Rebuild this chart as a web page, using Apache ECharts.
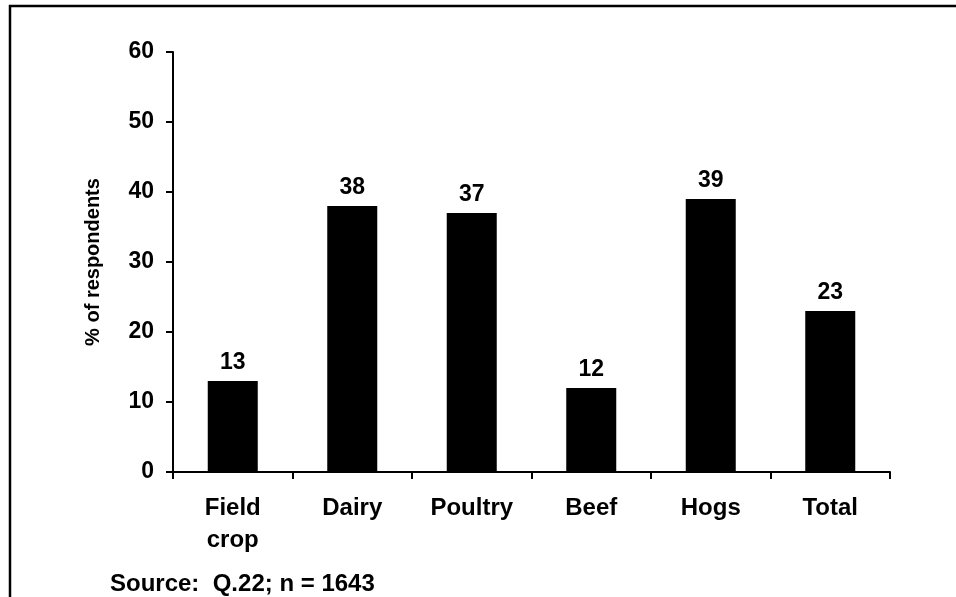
<!DOCTYPE html>
<html>
<head>
<meta charset="utf-8">
<script src="https://cdn.jsdelivr.net/npm/echarts@6/dist/echarts.min.js"></script>
<style>
  html, body { margin: 0; padding: 0; background: #fff; }
  #chart { width: 956px; height: 597px; }
</style>
</head>
<body>
<div id="chart"></div>
<script>
// Farm types and share of respondents (%)
const categories = ['Field\ncrop', 'Dairy', 'Poultry', 'Beef', 'Hogs', 'Total'];
const values = [13, 38, 37, 12, 39, 23];
const yTicks = { min: 0, max: 60, interval: 10 };
const axisName = '% of respondents';
const sourceNote = 'Source:  Q.22; n = 1643';

const FONT = '"Liberation Sans", Arial, sans-serif';
const chart = echarts.init(document.getElementById('chart'), null, { renderer: 'canvas' });

chart.setOption({
  backgroundColor: '#ffffff',
  animation: false,
  textStyle: { fontFamily: FONT },
  grid: { left: 173, right: 66, top: 52, bottom: 125, containLabel: false },
  xAxis: {
    type: 'category',
    data: categories,
    axisLine: { show: true, lineStyle: { color: '#000', width: 2 } },
    axisTick: { show: true, length: 7, lineStyle: { color: '#000', width: 2 } },
    axisLabel: {
      color: '#000', fontFamily: FONT, fontWeight: 'bold', fontSize: 24,
      margin: 20, lineHeight: 32
    },
    splitLine: { show: false }
  },
  yAxis: {
    type: 'value',
    min: yTicks.min, max: yTicks.max, interval: yTicks.interval,
    name: axisName,
    nameLocation: 'middle',
    nameGap: 70,
    nameRotate: 90,
    nameTextStyle: { color: '#000', fontFamily: FONT, fontWeight: 'bold', fontSize: 20 },
    axisLine: { show: true, lineStyle: { color: '#000', width: 2 } },
    axisTick: { show: true, length: 7, lineStyle: { color: '#000', width: 2 } },
    axisLabel: { color: '#000', fontFamily: FONT, fontWeight: 'bold', fontSize: 23, margin: 19 },
    splitLine: { show: false }
  },
  series: [{
    type: 'bar',
    data: values,
    barWidth: 50,
    itemStyle: { color: '#000' },
    label: {
      show: true, position: 'top', distance: 7,
      color: '#000', fontFamily: FONT, fontWeight: 'bold', fontSize: 23
    }
  }],
  graphic: [
    {
      type: 'rect',
      shape: { x: 10, y: 6, width: 1000, height: 700 },
      style: { fill: 'none', stroke: '#000', lineWidth: 2.5 },
      silent: true
    },
    {
      type: 'text',
      x: 110, y: 572,
      style: {
        text: sourceNote, fill: '#000',
        font: 'bold 24px ' + FONT,
        verticalAlign: 'top'
      }
    }
  ]
});
</script>
</body>
</html>
